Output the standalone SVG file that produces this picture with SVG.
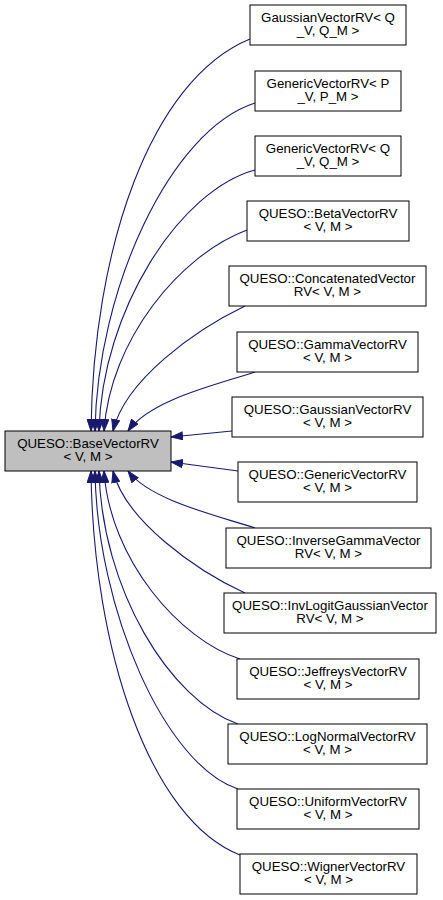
<svg xmlns="http://www.w3.org/2000/svg" width="443" height="900" viewBox="0 0 443 900">
<style>
.n rect{fill:#fff;stroke:#000;stroke-width:1}
.b rect{fill:#bfbfbf;stroke:#000;stroke-width:1}
text{font-family:"Liberation Sans",Arial,sans-serif;font-size:13.3px;fill:#000;text-anchor:middle}
.e path{fill:none;stroke:#191970;stroke-width:1.1;marker-end:url(#ah)}
</style>
<defs>
<marker id="ah" markerUnits="userSpaceOnUse" markerWidth="13" markerHeight="9" refX="12" refY="4.5" orient="auto" viewBox="0 0 13 9">
<polygon points="0.5,0.5 12,4.5 0.5,8.5" fill="#191970" stroke="#191970" stroke-width="1"/>
</marker>
</defs>
<rect width="443" height="900" fill="#fff"/>
<g class="e" id="edges">
<path d="M250,39 C150,80 93,250 91,431"/>
<path d="M255,103 C170,130 97,290 95,431"/>
<path d="M255,170 C180,190 102,310 99,431"/>
<path d="M247,230 C180,255 110,340 104,431"/>
<path d="M245,306 C195,330 125,380 113,431"/>
<path d="M255,372 C215,385 150,400 128,431"/>
<path d="M232,431 L171,437"/>
<path d="M238,471 L171,462"/>
<path d="M255,528 C215,515 150,500 128,471"/>
<path d="M245,593 C195,570 125,520 113,471"/>
<path d="M240,659 C180,640 110,560 104,471"/>
<path d="M238,724 C170,700 102,590 99,471"/>
<path d="M238,789 C165,765 97,610 95,471"/>
<path d="M240,855 C150,820 93,650 91,471"/>
</g>
<g class="b" id="base"><rect x="5" y="431" width="166" height="40"/><text x="88" y="447.5">QUESO::BaseVectorRV<tspan x="88" dy="13">&lt; V, M &gt;</tspan></text></g>
<g class="n" id="n1"><rect x="250" y="5" width="156" height="40"/><text x="328" y="21.5">GaussianVectorRV&lt; Q<tspan x="328" dy="13">_V, Q_M &gt;</tspan></text></g>
<g class="n" id="n2"><rect x="255" y="71" width="146" height="40"/><text x="328" y="87.5">GenericVectorRV&lt; P<tspan x="328" dy="13">_V, P_M &gt;</tspan></text></g>
<g class="n" id="n3"><rect x="255" y="136" width="146" height="40"/><text x="328" y="152.5">GenericVectorRV&lt; Q<tspan x="328" dy="13">_V, Q_M &gt;</tspan></text></g>
<g class="n" id="n4"><rect x="247" y="201" width="162" height="40"/><text x="328" y="217.5">QUESO::BetaVectorRV<tspan x="328" dy="13">&lt; V, M &gt;</tspan></text></g>
<g class="n" id="n5"><rect x="229" y="266" width="197" height="40"/><text x="327.5" y="282.5">QUESO::ConcatenatedVector<tspan x="327.5" dy="13">RV&lt; V, M &gt;</tspan></text></g>
<g class="n" id="n6"><rect x="237" y="332" width="181" height="40"/><text x="327.5" y="348.5">QUESO::GammaVectorRV<tspan x="327.5" dy="13">&lt; V, M &gt;</tspan></text></g>
<g class="n" id="n7"><rect x="232" y="397" width="191" height="40"/><text x="327.5" y="413.5">QUESO::GaussianVectorRV<tspan x="327.5" dy="13">&lt; V, M &gt;</tspan></text></g>
<g class="n" id="n8"><rect x="238" y="462" width="179" height="40"/><text x="327.5" y="478.5">QUESO::GenericVectorRV<tspan x="327.5" dy="13">&lt; V, M &gt;</tspan></text></g>
<g class="n" id="n9"><rect x="226" y="528" width="205" height="40"/><text x="328.5" y="544.5">QUESO::InverseGammaVector<tspan x="328.5" dy="13">RV&lt; V, M &gt;</tspan></text></g>
<g class="n" id="n10"><rect x="224" y="593" width="212" height="40"/><text x="330" y="609.5">QUESO::InvLogitGaussianVector<tspan x="330" dy="13">RV&lt; V, M &gt;</tspan></text></g>
<g class="n" id="n11"><rect x="237" y="659" width="182" height="40"/><text x="328" y="675.5">QUESO::JeffreysVectorRV<tspan x="328" dy="13">&lt; V, M &gt;</tspan></text></g>
<g class="n" id="n12"><rect x="228" y="724" width="199" height="40"/><text x="327.5" y="740.5">QUESO::LogNormalVectorRV<tspan x="327.5" dy="13">&lt; V, M &gt;</tspan></text></g>
<g class="n" id="n13"><rect x="237" y="789" width="182" height="40"/><text x="328" y="805.5">QUESO::UniformVectorRV<tspan x="328" dy="13">&lt; V, M &gt;</tspan></text></g>
<g class="n" id="n14"><rect x="240" y="854" width="177" height="40"/><text x="328.5" y="870.5">QUESO::WignerVectorRV<tspan x="328.5" dy="13">&lt; V, M &gt;</tspan></text></g>
</svg>
